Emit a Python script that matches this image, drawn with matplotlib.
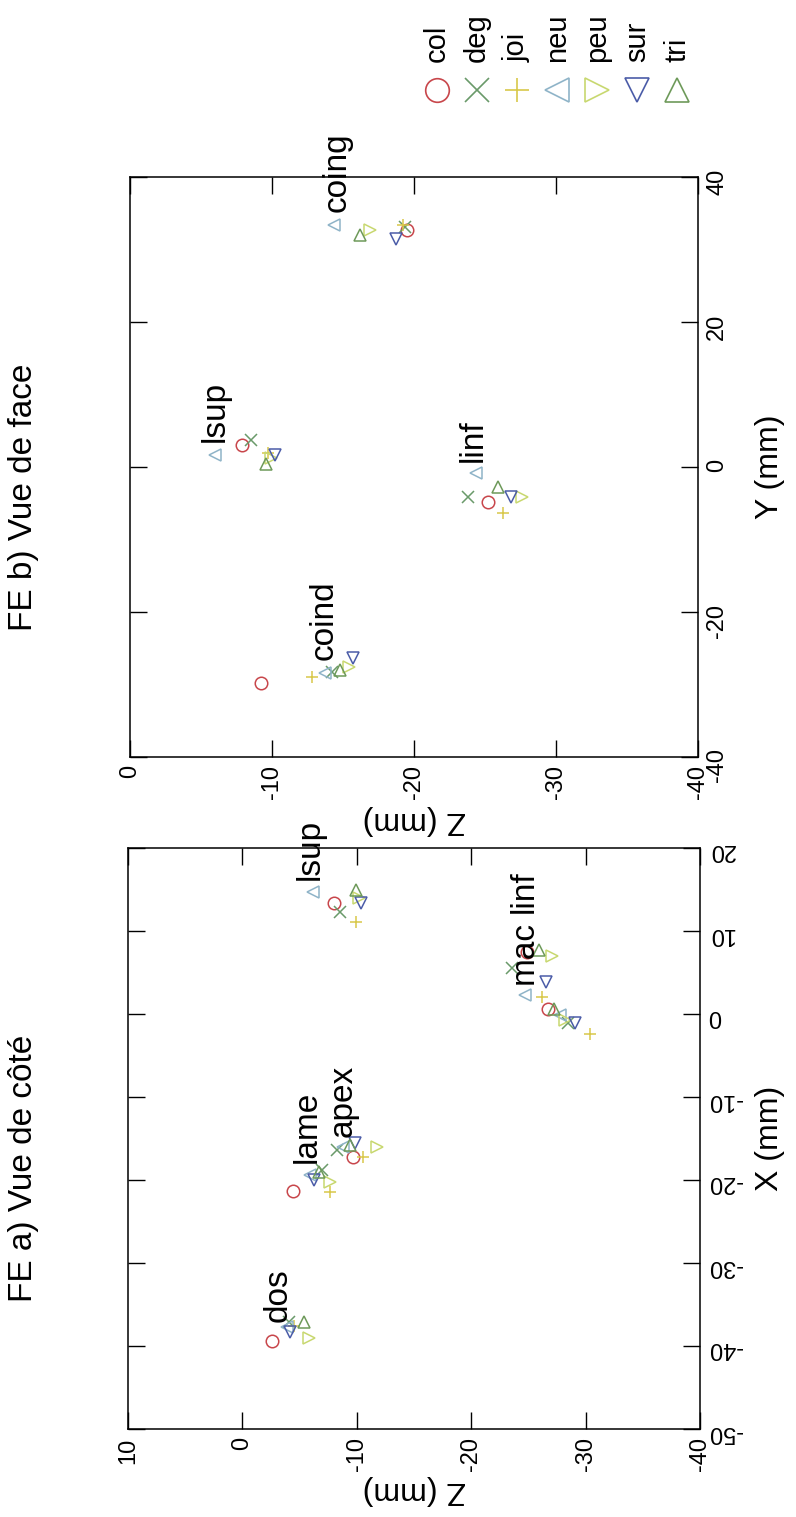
import numpy as np
import matplotlib.pyplot as plt

plt.rcParams['font.family'] = ['Liberation Sans', 'DejaVu Sans']
plt.rcParams['axes.unicode_minus'] = False

series = ['col', 'deg', 'joi', 'neu', 'peu', 'sur', 'tri']
markers = ['o', 'x', '+', '<', '>', 'v', '^']
colors = ['#c8464b', '#6a9a6a', '#d8c84a', '#8fb4c8', '#c8d870', '#4b5ca8', '#6e9a5a']

# a) vue de cote : Z (mm) and X (mm), one value per series
side_names = ['dos', 'lame', 'apex', 'lsup', 'mac', 'linf']
side_dos_z = [-2.6, -4.1, -4.5, -3.9, -5.8, -4.2, -5.4]
side_dos_x = [-39.4, -37.1, -37.6, -37.7, -39.0, -38.3, -37.1]
side_lame_z = [-4.4, -7.0, -7.7, -5.9, -7.7, -6.3, -6.7]
side_lame_x = [-21.3, -18.8, -21.4, -19.4, -20.2, -20.0, -19.0]
side_apex_z = [-9.7, -8.3, -10.5, -8.8, -11.8, -9.8, -9.4]
side_apex_x = [-17.2, -16.4, -17.2, -16.0, -16.0, -15.5, -15.8]
side_lsup_z = [-8.0, -8.5, -9.9, -6.2, -10.2, -10.4, -9.9]
side_lsup_x = [13.4, 12.3, 11.1, 14.7, 14.0, 13.4, 14.9]
side_mac_z = [-24.9, -23.6, -26.2, -24.7, -27.1, -26.5, -25.9]
side_mac_x = [7.5, 5.5, 2.0, 2.3, 7.0, 3.9, 7.7]
side_linf_z = [-26.7, -28.5, -30.4, -27.8, -28.2, -29.1, -27.2]
side_linf_x = [0.6, -1.1, -2.4, -0.1, -0.7, -1.1, 0.6]
side_label_z = [-3.1, -5.7, -8.8, -5.9, -24.6, -24.6]
side_label_x = [-37.1, -18.0, -14.8, 16.1, 3.6, 12.2]

# b) vue de face : Z (mm) and Y (mm)
face_names = ['lsup', 'linf', 'coind', 'coing']
face_lsup_z = [-7.9, -8.5, -9.7, -6.0, -9.9, -10.2, -9.6]
face_lsup_y = [3.0, 3.7, 2.0, 1.7, 1.2, 1.7, 0.4]
face_linf_z = [-25.2, -23.8, -26.3, -24.4, -27.6, -26.8, -25.9]
face_linf_y = [-4.8, -4.1, -6.3, -0.8, -4.1, -4.1, -2.8]
face_coind_z = [-9.2, -14.2, -12.8, -13.7, -15.4, -15.7, -14.8]
face_coind_y = [-29.8, -28.3, -29.0, -28.4, -27.6, -26.3, -28.0]
face_coing_z = [-19.5, -19.4, -19.2, -14.4, -16.9, -18.7, -16.2]
face_coing_y = [32.7, 33.1, 33.4, 33.4, 32.7, 31.4, 32.0]
face_label_z = [-6.0, -24.2, -13.7, -14.6]
face_label_y = [3.4, 0.7, -26.6, 35.2]

W, H = 796, 1517
fig = plt.figure(figsize=(W / 100, H / 100), dpi=100)


def style_axes(ax):
    ax.tick_params(direction='in', length=12, width=1, top=True, right=True,
                   left=True, bottom=True, labelsize=17, pad=6)
    ax.tick_params(axis='y', labelleft=False, labelright=True)
    ax.tick_params(axis='x', labelrotation=90)
    ax.tick_params(axis='y', labelrotation=90)
    for s in ax.spines.values():
        s.set_linewidth(1.1)


def draw_points(ax, zs, vs):
    for i in range(len(series)):
        ax.plot(zs[i], vs[i], linestyle='none', marker=markers[i], ms=9,
                mfc='none', mec=colors[i], mew=1.1)


# panel b (top in the page)
axb = fig.add_axes([130 / W, 1 - 757 / H, 568 / W, 580 / H])
for zs, ys in [(face_lsup_z, face_lsup_y), (face_linf_z, face_linf_y),
               (face_coind_z, face_coind_y), (face_coing_z, face_coing_y)]:
    draw_points(axb, zs, ys)
for name, z, y in zip(face_names, face_label_z, face_label_y):
    axb.text(z, y, name, rotation=90, ha='center', va='bottom', fontsize=24)
axb.set_xlim(0, -40)
axb.set_ylim(-40, 40)
axb.set_xticks([0, -10, -20, -30, -40])
axb.set_yticks([-40, -20, 0, 20, 40])
style_axes(axb)
axb.set_xlabel('Z (mm)', fontsize=23, rotation=180, va='center')
axb.xaxis.set_label_coords(0.5, -0.109)
axb.yaxis.set_label_position('right')
axb.set_ylabel('Y (mm)', fontsize=23, rotation=90, va='center')
axb.yaxis.set_label_coords(1.127, 0.5)

# panel a (bottom in the page)
axa = fig.add_axes([128 / W, 1 - 1429 / H, 572 / W, 581 / H])
for zs, xs in [(side_dos_z, side_dos_x), (side_lame_z, side_lame_x),
               (side_apex_z, side_apex_x), (side_lsup_z, side_lsup_x),
               (side_mac_z, side_mac_x), (side_linf_z, side_linf_x)]:
    draw_points(axa, zs, xs)
for name, z, x in zip(side_names, side_label_z, side_label_x):
    axa.text(z, x, name, rotation=90, ha='center', va='bottom', fontsize=24,
             clip_on=False)
axa.set_xlim(10, -40)
axa.set_ylim(-50, 20)
axa.set_xticks([10, 0, -10, -20, -30, -40])
axa.set_yticks([-50, -40, -30, -20, -10, 0, 10, 20])
style_axes(axa)
axa.tick_params(axis='y', labelrotation=180)
axa.set_xlabel('Z (mm)', fontsize=23, rotation=180, va='center')
axa.xaxis.set_label_coords(0.5, -0.105)
axa.yaxis.set_label_position('right')
axa.set_ylabel('X (mm)', fontsize=23, rotation=90, va='center')
axa.yaxis.set_label_coords(1.122, 0.5)

# titles on the left side
fig.text(24 / W, 1 - 497 / H, 'FE b) Vue de face', rotation=90,
         ha='center', va='center', fontsize=24)
fig.text(24 / W, 1 - 1168 / H, 'FE a) Vue de côté', rotation=90,
         ha='center', va='center', fontsize=24)

# legend drawn by hand, turned like the rest of the page
axl = fig.add_axes([0, 0, 1, 1])
axl.set_xlim(0, W)
axl.set_ylim(H, 0)
axl.axis('off')
for i, s in enumerate(series):
    xc = 437 + 40 * i
    axl.plot(xc, 90, linestyle='none', marker=markers[i], ms=17,
             mfc='none', mec=colors[i], mew=1.2)
    axl.text(xc, 62, s, rotation=90, ha='center', va='bottom', fontsize=21)

fig.savefig('out.png', dpi=100)
